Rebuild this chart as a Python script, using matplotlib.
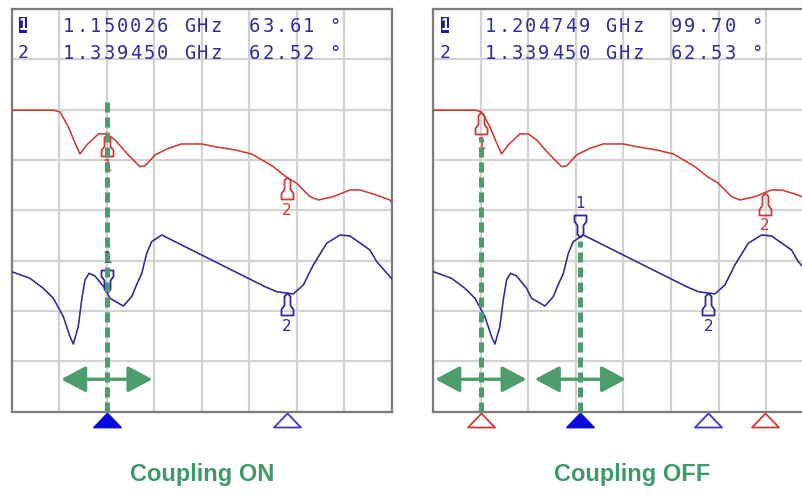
import matplotlib
matplotlib.use("Agg")
import numpy as np
import matplotlib.pyplot as plt
from matplotlib.path import Path
from matplotlib.patches import FancyArrowPatch, Rectangle
import matplotlib.transforms as mtransforms

# ---------------- data ----------------
f_start, f_stop, f_step = 1.05, 1.45, 0.05
y_divs = 8

red_freq = [1.050, 1.0938, 1.1008, 1.1095, 1.1166, 1.1218, 1.1289, 1.1411, 1.1500, 1.1587,
            1.1710, 1.1849, 1.1902, 1.2007, 1.2147, 1.2288, 1.2498, 1.2638, 1.2849, 1.3024,
            1.3164, 1.3251, 1.3392, 1.3497, 1.3637, 1.3725, 1.3882, 1.4058, 1.4163, 1.4303,
            1.4479, 1.4500]
red_val = [5.99, 5.99, 5.955, 5.663, 5.339, 5.120, 5.299, 5.518, 5.518, 5.399,
           5.134, 4.868, 4.882, 5.100, 5.233, 5.319, 5.319, 5.265, 5.200, 5.120,
           4.967, 4.868, 4.657, 4.538, 4.272, 4.206, 4.272, 4.405, 4.405, 4.325,
           4.206, 4.147]

blue_freq = [1.050, 1.0692, 1.0832, 1.0938, 1.1043, 1.1113, 1.1148, 1.1200, 1.1236, 1.1271,
             1.1313, 1.1376, 1.1481, 1.1534, 1.1674, 1.1762, 1.1820, 1.1867, 1.1920, 1.1972,
             1.2078, 1.2252, 1.2498, 1.2743, 1.2954, 1.3164, 1.3287, 1.3462, 1.3567, 1.3672,
             1.3813, 1.3953, 1.4058, 1.4268, 1.4339, 1.4479, 1.4500]
blue_val = [2.782, 2.650, 2.452, 2.253, 1.888, 1.490, 1.345, 1.689, 2.219, 2.617,
            2.750, 2.696, 2.452, 2.253, 2.100, 2.285, 2.550, 2.740, 3.147, 3.378,
            3.511, 3.346, 3.113, 2.881, 2.682, 2.484, 2.384, 2.339, 2.517, 2.915,
            3.346, 3.511, 3.491, 3.213, 2.980, 2.682, 2.637]

# panel 1: coupling ON ; panel 2: coupling OFF
titles = ["Coupling ON", "Coupling OFF"]
blue_markers = [[1.150026, 1.339450], [1.204749, 1.339450]]
red_markers = [[1.150026, 1.339450], [1.100100, 1.398900]]
readout_freq = [["1.150026 GHz", "1.339450 GHz"], ["1.204749 GHz", "1.339450 GHz"]]
readout_val = [["63.61 °", "62.52 °"], ["99.70 °", "62.53 °"]]
marker_labels = ["1", "2"]
arrow_half_span = 0.048

# ---------------- style ----------------
W, H = 803, 501
RED = "#d03a36"
BLUE = "#2a2a9c"
TXT = "#2d2d9e"
GREEN = "#4c9c6c"
GRID = "#d2d2d2"
FRAME = "#7c7c7c"

fig = plt.figure(figsize=(W / 100, H / 100), dpi=100)
fig.patch.set_facecolor("white")

PW, PH = 380.3, 402.7
BOT = 411.7

# marker symbol (apex at trace point, pointing up, body below)
sym_v = [(0, 0), (-3, -3), (-3, -12), (-6, -16), (-6, -22), (6, -22), (6, -16), (3, -12), (3, -3), (0, 0)]
sym_c = [Path.MOVETO] + [Path.LINETO] * (len(sym_v) - 2) + [Path.CLOSEPOLY]
sym_below = Path(sym_v, sym_c)
sym_above = Path([(x, -y) for x, y in sym_v], sym_c)
SYM_MS = 44 / (100 / 72)

tri_up = Path([(0, 7), (-13.5, -7), (13.5, -7), (0, 7)],
              [Path.MOVETO, Path.LINETO, Path.LINETO, Path.CLOSEPOLY])
TRI_MS = 27 / (100 / 72)


def panel(idx, left_px, title_x):
    ax = fig.add_axes([left_px / W, (H - BOT) / H, PW / W, PH / H])
    ax.set_xlim(f_start, f_stop)
    ax.set_ylim(0, y_divs)
    ax.set_xticks(np.arange(f_start, f_stop + 1e-9, f_step))
    ax.set_yticks(np.arange(0, y_divs + 1))
    ax.tick_params(length=0, labelbottom=False, labelleft=False)
    ax.grid(True, color=GRID, lw=1.6)
    ax.set_axisbelow(True)
    for s in ax.spines.values():
        s.set_color(FRAME)
        s.set_linewidth(1.6)

    ax.plot(red_freq, red_val, color=RED, lw=1.15, zorder=3)
    ax.plot(blue_freq, blue_val, color=BLUE, lw=1.15, zorder=3)

    # markers on traces
    def put_marker(f, trf, trv, color, above, label):
        v = float(np.interp(f, trf, trv))
        ax.plot([f], [v], ls="none", marker=sym_above if above else sym_below,
                ms=SYM_MS, mfc="none", mec=color, mew=1.3, zorder=4)
        off = 33 if above else -33
        tr = mtransforms.offset_copy(ax.transData, fig=fig, x=0, y=off, units="dots")
        ax.text(f, v, label, transform=tr, ha="center", va="center", color=color,
                fontsize=11, family="DejaVu Sans", zorder=4)
        return v

    for k, f in enumerate(red_markers[idx]):
        put_marker(f, red_freq, red_val, RED, False, marker_labels[k])
    bvals = []
    for k, f in enumerate(blue_markers[idx]):
        bvals.append(put_marker(f, blue_freq, blue_val, BLUE, k == 0, marker_labels[k]))

    # bottom stimulus triangles
    bl = mtransforms.blended_transform_factory(ax.transData, ax.transAxes)
    ytri = -(420 - BOT) / PH
    if idx == 1:
        for f in red_markers[idx]:
            ax.plot([f], [ytri], transform=bl, ls="none", marker=tri_up, ms=TRI_MS,
                    mfc="white", mec=RED, mew=1.3, clip_on=False)
    ax.plot([blue_markers[idx][1]], [ytri], transform=bl, ls="none", marker=tri_up, ms=TRI_MS,
            mfc="white", mec="#3a3ad0", mew=1.3, clip_on=False)
    ax.plot([blue_markers[idx][0]], [ytri], transform=bl, ls="none", marker=tri_up, ms=TRI_MS,
            mfc="#0a0ae0", mec="#0a0ae0", mew=1.3, clip_on=False)

    # green dashed lines + arrows
    ls = (0, (2.0, 1.0))
    if idx == 0:
        f = blue_markers[0][0]
        ax.plot([f, f], [0, 6.19], color=GREEN, lw=3.6, ls=ls, zorder=6)
        centers = [f]
    else:
        f1 = red_markers[1][0]
        f2 = blue_markers[1][0]
        ax.plot([f1, f1], [0, 5.44], color=GREEN, lw=3.6, ls=ls, zorder=6)
        ax.plot([f2, f2], [0, bvals[0] - 0.08], color=GREEN, lw=3.6, ls=ls, zorder=6)
        centers = [f1, f2]
    for c in centers:
        ax.add_patch(FancyArrowPatch((c - arrow_half_span, 0.645), (c + arrow_half_span, 0.645),
                                     arrowstyle="<|-|>,head_length=15,head_width=8",
                                     mutation_scale=1, lw=2.4, color=GREEN,
                                     shrinkA=0, shrinkB=0, zorder=7))

    # readout text (monospace, fixed pitch)
    def ax_xy(dx, dy):
        return dx / PW, 1 - dy / PH

    pitch = 13.4
    ax.add_patch(Rectangle(ax_xy(7.4, 23.5), 8 / PW, 15 / PH, transform=ax.transAxes,
                           facecolor="#1c1ca8", edgecolor="none", zorder=8))
    x, y = ax_xy(11.4, 16.3)
    ax.text(x, y, "1", transform=ax.transAxes, ha="center", va="center", color="white",
            fontsize=11, family="DejaVu Sans Mono", fontweight="bold", zorder=9)
    x, y = ax_xy(11.4, 44.5)
    ax.text(x, y, "2", transform=ax.transAxes, ha="center", va="center", color=TXT,
            fontsize=13, family="DejaVu Sans Mono", zorder=9)
    for row, dy in enumerate([18.0, 44.5]):
        for start, s in [(50.3, readout_freq[idx][row]), (236.3, readout_val[idx][row])]:
            for i, ch in enumerate(s):
                if ch == " ":
                    continue
                x, y = ax_xy(start + pitch * i + pitch / 2, dy)
                ax.text(x, y, ch, transform=ax.transAxes, ha="center", va="center",
                        color=TXT, fontsize=13.5, family="DejaVu Sans Mono", zorder=9)

    fig.text(title_x / W, 1 - 475 / H, titles[idx], ha="center", va="center",
             fontsize=17, fontweight="bold", color="#3d9a68",
             family=["Liberation Sans Narrow", "Liberation Sans"])
    return ax


panel(0, 11.7, 202)
panel(1, 433.3, 632)

fig.savefig("out.png", dpi=100, facecolor="white")
